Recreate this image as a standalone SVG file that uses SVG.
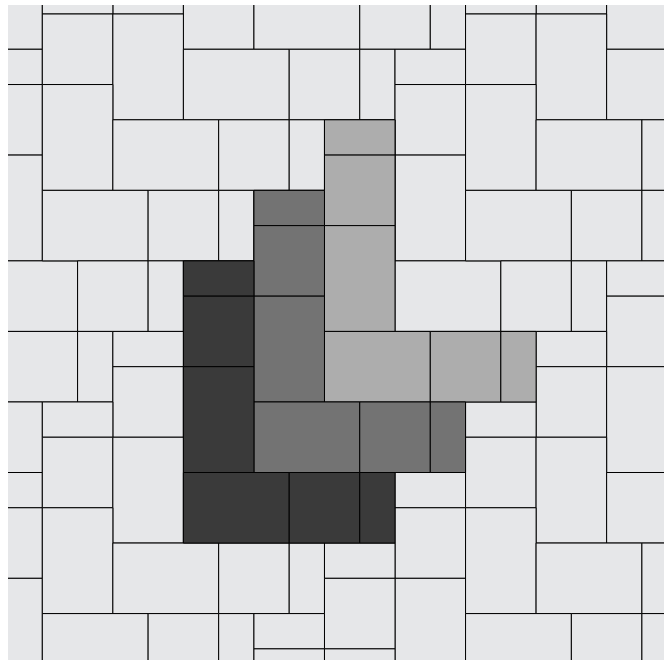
<svg xmlns="http://www.w3.org/2000/svg" width="668" height="661" viewBox="0 0 668 661">
<style>
.t{fill:#e6e7e9;stroke:#000;stroke-width:1;vector-effect:non-scaling-stroke}
.d{fill:#3a3a3a}
.m{fill:#737373}
.l{fill:#adadad}
</style>
<defs>
<clipPath id="c"><rect x="8" y="5" width="656" height="655"/></clipPath>
<g id="cell">
<rect class="t" x="1" y="0" width="2" height="2"/>
<rect class="t" x="3" y="0" width="2" height="3"/>
<rect class="t" x="5" y="1" width="3" height="2"/>
<rect class="t" x="8" y="1" width="2" height="2"/>
<rect class="t" x="10" y="1" width="1" height="2"/>
<rect class="t" x="11" y="1" width="2" height="1"/>
<rect class="t" x="11" y="2" width="2" height="2"/>
<rect class="t" x="1" y="2" width="2" height="3"/>
<rect class="t" x="3" y="3" width="3" height="2"/>
<rect class="t" x="6" y="3" width="2" height="2"/>
<rect class="t" x="8" y="3" width="1" height="2"/>
<rect class="t" x="9" y="3" width="2" height="1"/>
<rect class="t" x="11" y="4" width="2" height="3"/>
<rect class="t" x="9" y="4" width="2" height="2"/>
<rect class="t" x="1" y="5" width="3" height="2"/>
<rect class="t" x="4" y="5" width="2" height="2"/>
<rect class="t" x="6" y="5" width="1" height="2"/>
<rect class="t" x="7" y="5" width="2" height="1"/>
<rect class="t" x="7" y="6" width="2" height="2"/>
<rect class="t" x="9" y="6" width="2" height="3"/>
<rect class="t" x="11" y="7" width="3" height="2"/>
<rect class="t" x="2" y="7" width="2" height="2"/>
<rect class="t" x="4" y="7" width="1" height="2"/>
<rect class="t" x="5" y="7" width="2" height="1"/>
<rect class="t" x="5" y="8" width="2" height="2"/>
<rect class="t" x="7" y="8" width="2" height="3"/>
<rect class="t" x="9" y="9" width="3" height="2"/>
<rect class="t" x="0" y="9" width="2" height="2"/>
<rect class="t" x="2" y="9" width="1" height="2"/>
<rect class="t" x="3" y="9" width="2" height="1"/>
<rect class="t" x="3" y="10" width="2" height="2"/>
<rect class="t" x="5" y="10" width="2" height="3"/>
<rect class="t" x="7" y="11" width="3" height="2"/>
<rect class="t" x="10" y="11" width="2" height="2"/>
<rect class="t" x="0" y="11" width="1" height="2"/>
<rect class="t" x="1" y="11" width="2" height="1"/>
</g>
</defs>
<rect width="668" height="661" fill="#fff"/>
<g clip-path="url(#c)">
<g transform="translate(7.05 14) scale(35.27)">
<g id="tiling">
<use href="#cell" x="-12" y="-12"/>
<use href="#cell" x="0" y="-12"/>
<use href="#cell" x="12" y="-12"/>
<use href="#cell" x="-12" y="0"/>
<use href="#cell" x="0" y="0"/>
<use href="#cell" x="12" y="0"/>
<use href="#cell" x="-12" y="12"/>
<use href="#cell" x="0" y="12"/>
<use href="#cell" x="12" y="12"/>
</g>
<g id="light">
<rect class="t l" x="9" y="3" width="2" height="1"/>
<rect class="t l" x="9" y="4" width="2" height="2"/>
<rect class="t l" x="9" y="6" width="2" height="3"/>
<rect class="t l" x="9" y="9" width="3" height="2"/>
<rect class="t l" x="12" y="9" width="2" height="2"/>
<rect class="t l" x="14" y="9" width="1" height="2"/>
</g>
<g id="medium">
<rect class="t m" x="7" y="5" width="2" height="1"/>
<rect class="t m" x="7" y="6" width="2" height="2"/>
<rect class="t m" x="7" y="8" width="2" height="3"/>
<rect class="t m" x="7" y="11" width="3" height="2"/>
<rect class="t m" x="10" y="11" width="2" height="2"/>
<rect class="t m" x="12" y="11" width="1" height="2"/>
</g>
<g id="dark">
<rect class="t d" x="5" y="7" width="2" height="1"/>
<rect class="t d" x="5" y="8" width="2" height="2"/>
<rect class="t d" x="5" y="10" width="2" height="3"/>
<rect class="t d" x="5" y="13" width="3" height="2"/>
<rect class="t d" x="8" y="13" width="2" height="2"/>
<rect class="t d" x="10" y="13" width="1" height="2"/>
</g>
</g>
</g>
</svg>
